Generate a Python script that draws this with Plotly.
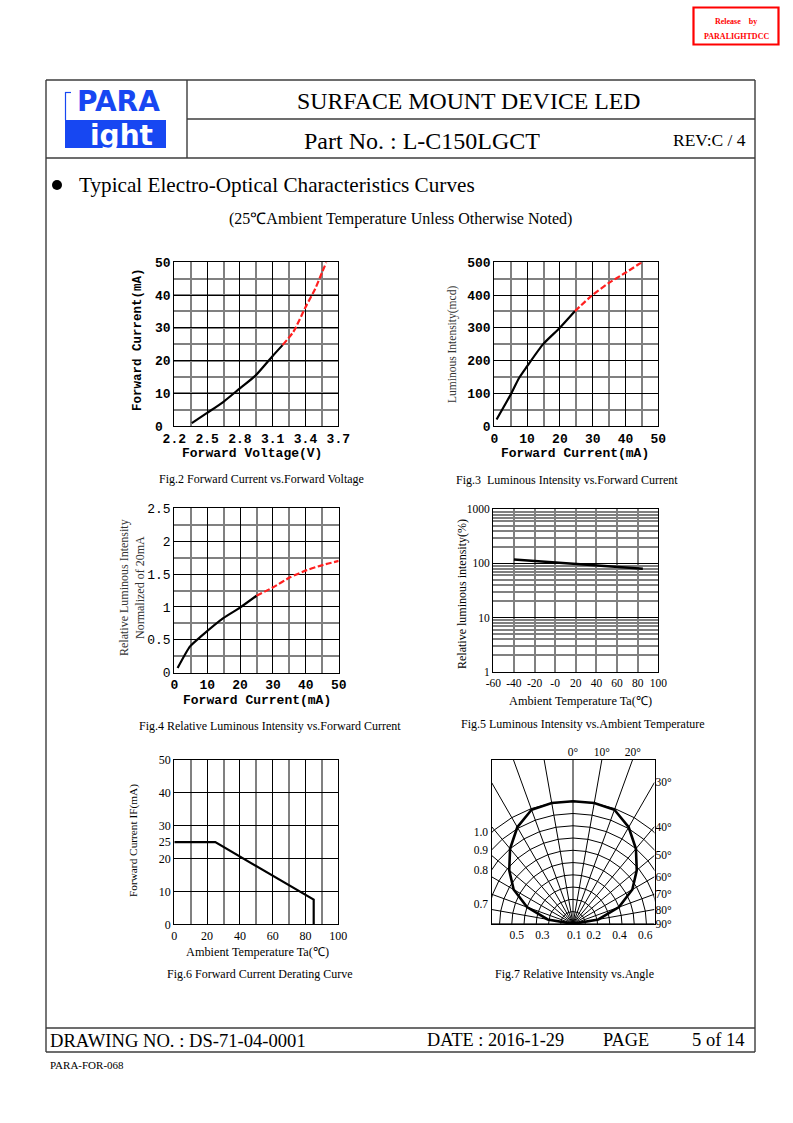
import numpy as np
import plotly.graph_objects as go

W, H = 793, 1123
def px(x): return x / W
def py(y): return 1 - y / H

# ---------------- data ----------------
# Fig.2 Forward current vs forward voltage
fig2_vf = [2.36, 2.50, 2.65, 2.80, 2.94, 3.10, 3.19]
fig2_if = [0.9, 4.0, 7.4, 11.5, 15.3, 21.4, 24.7]
fig2_vf_ext = [3.19, 3.29, 3.40, 3.49, 3.55, 3.59]
fig2_if_ext = [24.7, 28.8, 36.3, 42.0, 46.8, 50.0]
fig2_yticks = [0, 10, 20, 30, 40, 50]
fig2_ytext = ["0\u00a0", "10", "20", "30", "40", "50"]

# Fig.3 Luminous intensity vs forward current
fig3_if = [0.7, 5.1, 7.5, 9.9, 14.9, 20.0, 24.6]
fig3_iv = [20, 98, 146, 181, 250, 300, 351]
fig3_if_ext = [24.6, 29.7, 34.8, 40.0, 44.9]
fig3_iv_ext = [351, 398, 436, 468, 500]

# Fig.4 Relative luminous intensity vs forward current
fig4_if = [1.0, 4.8, 8.3, 14.9, 20.0, 25.0]
fig4_rel = [0.07, 0.40, 0.56, 0.83, 0.99, 1.17]
fig4_if_ext = [25.0, 30.1, 35.2, 40.3, 45.3, 50.0]
fig4_rel_ext = [1.17, 1.30, 1.45, 1.56, 1.64, 1.70]

# Fig.5 Luminous intensity vs ambient temperature
fig5_ta = [-40, -20, 0, 20, 40, 60, 85]
fig5_rel = [118, 111, 104, 97, 91, 86, 80]
fig5_xticks = [-60, -40, -20, 0, 20, 40, 60, 80, 100]
fig5_xtext = ["-60", "-40", "-20", "-0", "20", "40", "60", "80", "100"]

# Fig.6 Derating curve
fig6_ta = [0, 25, 85, 85]
fig6_if = [25, 25, 7.5, 0]
fig6_yticks = [0, 10, 20, 25, 30, 40, 50]

# Fig.7 Relative intensity vs angle
fig7_angle = [-90, -80, -70, -60, -50, -40, -30, -20, -10, 0, 10, 20, 30, 40, 50, 60, 70, 80, 90]
fig7_rel = [0, 0.21, 0.40, 0.56, 0.68, 0.80, 0.91, 0.99, 1.0, 1.0, 1.0, 0.99, 0.91, 0.80, 0.68, 0.56, 0.40, 0.21, 0]
fig7_grid_angles = list(range(-90, 91, 10))
fig7_grid_radii = [0.1, 0.2, 0.3, 0.4, 0.5, 0.6, 0.7, 0.8, 0.9, 1.0]
fig7_bottom_pos = [-0.46, -0.25, 0.01, 0.17, 0.38, 0.59]
fig7_bottom_text = ["0.5", "0.3", "0.1", "0.2", "0.4", "0.6"]
fig7_left_pos = [0.75, 0.60, 0.44, 0.16]
fig7_left_text = ["1.0", "0.9", "0.8", "0.7"]
fig7_top_angles = [0, 10, 20]
fig7_right_angles = [30, 40, 50, 60, 70, 80, 90]
HW, HH = 0.666, 1.34  # half-width / height of the fig.7 frame (relative-intensity units)

SERIF = "Liberation Serif"
MONO = "Liberation Mono"
RED = "#ff2020"

fig = go.Figure()

def add_line(x, y, xa, ya, color="black", width=2.2, dash=None, shape="spline"):
    fig.add_trace(go.Scatter(x=x, y=y, mode="lines", xaxis=xa, yaxis=ya,
                             line=dict(color=color, width=width, dash=dash, shape=shape, smoothing=0.6),
                             showlegend=False, hoverinfo="skip"))

DASH = "6px,2.5px"
add_line(fig2_vf, fig2_if, "x", "y")
add_line(fig2_vf_ext, fig2_if_ext, "x", "y", RED, dash=DASH)
add_line(fig3_if, fig3_iv, "x2", "y2")
add_line(fig3_if_ext, fig3_iv_ext, "x2", "y2", RED, dash=DASH)
add_line(fig4_if, fig4_rel, "x3", "y3")
add_line(fig4_if_ext, fig4_rel_ext, "x3", "y3", RED, dash=DASH)
add_line(fig5_ta, fig5_rel, "x4", "y4", width=2.6, shape="linear")
add_line(fig6_ta, fig6_if, "x5", "y5", width=2.2, shape="linear")

# Fig.7 polar grid drawn on a cartesian frame
gx, gy = [], []
for a in fig7_grid_angles:
    s, c = np.sin(np.radians(a)), np.cos(np.radians(a))
    t = min(HW / abs(s) if abs(s) > 1e-9 else 1e9, HH / c if c > 1e-9 else 1e9)
    gx += [0, t * s, None]
    gy += [0, t * c, None]
for r in fig7_grid_radii:
    for a in fig7_grid_angles:
        gx.append(r * np.sin(np.radians(a)))
        gy.append(r * np.cos(np.radians(a)))
    gx.append(None); gy.append(None)
fig.add_trace(go.Scatter(x=gx, y=gy, mode="lines", xaxis="x6", yaxis="y6",
                         line=dict(color="black", width=1), showlegend=False, hoverinfo="skip"))
cx = [r * np.sin(np.radians(a)) for a, r in zip(fig7_angle, fig7_rel)]
cy = [r * np.cos(np.radians(a)) for a, r in zip(fig7_angle, fig7_rel)]
fig.add_trace(go.Scatter(x=cx, y=cy, mode="lines", xaxis="x6", yaxis="y6",
                         line=dict(color="black", width=2.6), showlegend=False, hoverinfo="skip"))
# invisible traces to activate the secondary label axes of fig.7
fig.add_trace(go.Scatter(x=[0], y=[0], mode="markers", marker=dict(opacity=0), xaxis="x7", yaxis="y6",
                         showlegend=False, hoverinfo="skip"))
fig.add_trace(go.Scatter(x=[0], y=[0], mode="markers", marker=dict(opacity=0), xaxis="x6", yaxis="y7",
                         showlegend=False, hoverinfo="skip"))

def font(fam, size, weight="normal", color="black"):
    return dict(family=fam, size=size, color=color, weight=weight)

def gaxis(dom, rng, dtick, mdtick, tfont, anchor, major_color="black", minor_color="#808080",
          major_w=1, minor_w=2, **kw):
    d = dict(domain=dom, range=rng, anchor=anchor, tick0=rng[0], dtick=dtick,
             showgrid=True, gridcolor=major_color, gridwidth=major_w,
             minor=dict(tick0=rng[0], dtick=mdtick, showgrid=True, gridcolor=minor_color,
                        gridwidth=minor_w, ticks=""),
             showline=True, mirror=True, linecolor="black", linewidth=1.3,
             ticks="", tickfont=tfont, zeroline=False, fixedrange=True, automargin=False)
    d.update(kw)
    return d

mono_b = font(MONO, 13, "bold")
mono_n = font(MONO, 13)
serif12 = font(SERIF, 12)

layout = dict(
    template="none",
    width=W, height=H, autosize=False, margin=dict(l=0, r=0, t=0, b=0, pad=0),
    paper_bgcolor="white", plot_bgcolor="white", showlegend=False,
    # Fig.2
    xaxis=gaxis([px(174.3), px(338.3)], [2.2, 3.7], 0.3, 0.15, mono_b, "y", tickformat=".1f"),
    yaxis=gaxis([py(426), py(262.3)], [0, 50], 10, 5, mono_b, "x",
                tickmode="array", tickvals=fig2_yticks, ticktext=fig2_ytext),
    # Fig.3
    xaxis2=gaxis([px(494.3), px(658.3)], [0, 50], 10, 5, mono_b, "y2"),
    yaxis2=gaxis([py(426), py(262.3)], [0, 500], 100, 50, mono_b, "x2"),
    # Fig.4
    xaxis3=gaxis([px(174.3), px(338.7)], [0, 50], 10, 5, mono_b, "y3"),
    yaxis3=gaxis([py(672.7), py(508.3)], [0, 2.5], 0.5, 0.25, mono_n, "x3"),
    # Fig.5
    xaxis4=dict(domain=[px(493.3), px(658.3)], range=[-60, 100], anchor="y4",
                tickmode="array", tickvals=fig5_xticks, ticktext=fig5_xtext,
                showgrid=True, gridcolor="#808080", gridwidth=2,
                showline=True, mirror=True, linecolor="black", linewidth=1.3, automargin=False,
                ticks="", tickfont=font(SERIF, 11.5), zeroline=False, fixedrange=True),
    yaxis4=dict(domain=[py(671.7), py(509.3)], type="log", range=[0, 3], anchor="x4",
                tickmode="array", tickvals=[1, 10, 100, 1000], ticktext=["1", "10", "100", "1000"],
                showgrid=True, gridcolor="black", gridwidth=1.3, automargin=False,
                minor=dict(tickmode="array",
                           tickvals=[m * 10 ** k for k in range(3) for m in range(2, 10)],
                           showgrid=True, gridcolor="#808080", gridwidth=1.5, ticks=""),
                showline=True, mirror=True, linecolor="black", linewidth=1.3,
                ticks="", tickfont=font(SERIF, 11.5), zeroline=False, fixedrange=True),
    # Fig.6
    xaxis5=gaxis([px(174.3), px(338.3)], [0, 100], 20, 10, serif12, "y5"),
    yaxis5=dict(domain=[py(924.3), py(760)], range=[0, 50], anchor="x5",
                tickmode="array", tickvals=fig6_yticks, showgrid=False, automargin=False,
                minor=dict(tickmode="array", tickvals=[10, 20, 30, 40], showgrid=True,
                           gridcolor="black", gridwidth=1, ticks=""),
                showline=True, mirror=True, linecolor="black", linewidth=1.3,
                ticks="", tickfont=serif12, zeroline=False, fixedrange=True),
    # Fig.7
    xaxis6=dict(domain=[px(491.5), px(654.5)], range=[-HW, HW], anchor="y6", automargin=False,
                tickmode="array", tickvals=fig7_bottom_pos, ticktext=fig7_bottom_text,
                showgrid=False, showline=True, mirror=True, linecolor="black", linewidth=1.3,
                ticks="", tickfont=font(SERIF, 11.5), zeroline=False, fixedrange=True),
    yaxis6=dict(domain=[py(923.9), py(759.5)], range=[0, HH], anchor="x6", automargin=False,
                tickmode="array", tickvals=fig7_left_pos, ticktext=fig7_left_text,
                showgrid=False, showline=True, mirror=True, linecolor="black", linewidth=1.3,
                ticks="", tickfont=font(SERIF, 11.5), zeroline=False, fixedrange=True),
    xaxis7=dict(overlaying="x6", side="top", range=[-HW, HW], anchor="y6", automargin=False,
                tickmode="array", tickvals=[HH * np.tan(np.radians(a)) for a in fig7_top_angles],
                ticktext=[f"{a}°" for a in fig7_top_angles],
                showgrid=False, showline=False, ticks="", tickfont=font(SERIF, 11.5),
                zeroline=False, fixedrange=True),
    yaxis7=dict(overlaying="y6", side="right", range=[0, HH], anchor="x6", automargin=False,
                tickmode="array",
                tickvals=[HW / np.tan(np.radians(a)) for a in fig7_right_angles],
                ticktext=[f"{a}°" for a in fig7_right_angles],
                showgrid=False, showline=False, ticks="", tickfont=font(SERIF, 11.5),
                zeroline=False, fixedrange=True),
)
fig.update_layout(**layout)

# ---------------- page furniture ----------------
shapes = []
def pline(x0, y0, x1, y1, color="#3c3c3c", width=1.4):
    shapes.append(dict(type="line", xref="paper", yref="paper", x0=px(x0), y0=py(y0),
                       x1=px(x1), y1=py(y1), line=dict(color=color, width=width)))
def prect(x0, y0, x1, y1, line=None, fill=None, kind="rect"):
    shapes.append(dict(type=kind, xref="paper", yref="paper", x0=px(x0), y0=py(y0),
                       x1=px(x1), y1=py(y1), line=line or dict(width=0), fillcolor=fill))

pline(46, 80, 755, 80)
pline(187, 119, 755, 119)
pline(46, 158, 755, 158)
pline(187, 80, 187, 158)
pline(46, 80, 46, 1052)
pline(755, 80, 755, 1052)
pline(46, 1028, 755, 1028)
pline(46, 1052, 755, 1052)
# release stamp
prect(693.5, 7.5, 778.5, 44.5, line=dict(color="#ff0000", width=2.2))
# logo
BLUE = "#1747f2"
prect(65, 120, 166, 148, fill=BLUE)
pline(65.5, 92, 65.5, 120, color=BLUE, width=1.2)
pline(65, 92.5, 71, 92.5, color=BLUE, width=1.2)
# bullet
prect(52, 180, 62, 190, fill="black", kind="circle")

fig.update_layout(shapes=shapes)

anns = []
def ann(text, x, y, size, fam=SERIF, xanchor="center", yanchor="middle", angle=0, color="black",
        weight="normal"):
    anns.append(dict(text=text, x=px(x), y=py(y), xref="paper", yref="paper", showarrow=False,
                     xanchor=xanchor, yanchor=yanchor, textangle=angle,
                     font=dict(family=fam, size=size, color=color, weight=weight)))

ann("Release&nbsp;&nbsp;&nbsp;&nbsp;by", 736, 21, 8, weight="bold", color="#ff0000")
ann("PARALIGHTDCC", 736, 36, 8, weight="bold", color="#ff0000")
ann("PARA", 118, 102, 28, fam="DejaVu Sans", weight="bold", color=BLUE)
ann("ight", 121, 136, 28, fam="DejaVu Sans", weight="bold", color="white")
ann("SURFACE MOUNT DEVICE LED", 469, 101, 23.8)
ann("Part No. : L-C150LGCT", 422, 141, 24)
ann("REV:C / 4", 709, 140, 17.5)
ann("Typical Electro-Optical Characteristics Curves", 77, 185, 21.2, xanchor="left")
ann("(25℃Ambient Temperature Unless Otherwise Noted)", 400, 219, 16)

# Fig.2 texts
ann("Forward Current(mA)", 138, 340, 12.5, fam=MONO, angle=-90, weight="bold")
ann("Forward Voltage(V)", 252, 453, 13, fam=MONO, weight="bold")
ann("Fig.2 Forward Current vs.Forward Voltage", 261, 479, 12)
# Fig.3 texts
ann("Luminous Intensity(mcd)", 452, 345, 11.5, angle=-90, color="#333")
ann("Forward Current(mA)", 575, 453, 13, fam=MONO, weight="bold")
ann("Fig.3&nbsp;&nbsp;Luminous Intensity vs.Forward Current", 567, 480, 12)
# Fig.4 texts
ann("Relative Luminous Intensity<br>Normalized of 20mA", 132, 588, 12, angle=-90, color="#333")
ann("Forward Current(mA)", 257, 700, 13, fam=MONO, weight="bold")
ann("Fig.4 Relative Luminous Intensity vs.Forward Current", 270, 726, 12)
# Fig.5 texts
ann("Relative luminous intensity(%)", 462, 594, 12, angle=-90)
ann("Ambient Temperature Ta(℃)", 580, 701, 12.3)
ann("Fig.5 Luminous Intensity vs.Ambient Temperature", 583, 724, 12)
# Fig.6 texts
ann("Forward Current IF(mA)", 133, 841, 11.3, angle=-90)
ann("Ambient Temperature Ta(℃)", 257, 952, 12.3)
ann("Fig.6 Forward Current Derating Curve", 260, 974, 12)
# Fig.7 texts
ann("Fig.7 Relative Intensity vs.Angle", 574, 974, 12)

# footer
ann("DRAWING NO. : DS-71-04-0001", 48, 1040, 18.6, xanchor="left")
ann("DATE : 2016-1-29", 425, 1040, 18.3, xanchor="left")
ann("PAGE", 601, 1040, 18.3, xanchor="left")
ann("5 of 14", 690, 1040, 18.5, xanchor="left")
ann("PARA-FOR-068", 48, 1065, 11, xanchor="left")

fig.update_layout(annotations=anns)
fig.write_html("out.html", config={"displayModeBar": False},
               post_script="document.body.style.margin='0';document.body.style.padding='0';")
